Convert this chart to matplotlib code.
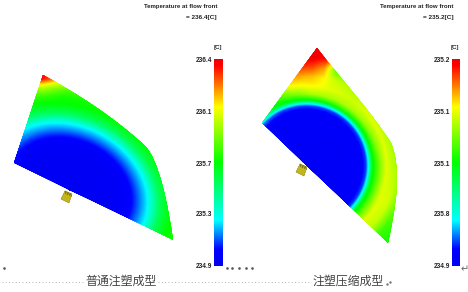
import matplotlib
matplotlib.use("Agg")
import matplotlib.pyplot as plt
import numpy as np
from matplotlib.colors import LinearSegmentedColormap, Normalize
from matplotlib.patches import PathPatch, Polygon
from matplotlib.path import Path

plt.rcParams['font.family'] = ['Liberation Sans', 'Noto Sans CJK SC', 'DejaVu Sans']

# outlines: corner, two control points, corner, two control points, corner
left_outline = [(43, 75), (78, 94), (115, 118), (145, 146), (159, 160), (168, 205), (173, 240), (14, 163)]
right_outline = [(317, 48), (340, 78), (370, 110), (391, 143), (402, 170), (396, 205), (388, 243), (262, 123)]

left_angles = [0, 30, 45, 56, 67, 90, 130, 180]
left_rings = [0, 0.6, 0.8, 1.0, 1.15, 1.3, 1.4, 1.5, 1.58, 1.65, 1.8]
left_temps = [
    [234.93, 234.93, 234.93, 234.93, 234.93, 234.93, 234.93, 234.93],
    [234.95, 234.95, 234.95, 234.95, 234.95, 234.95, 234.95, 234.95],
    [235.03, 235.03, 235.03, 235.03, 235.03, 235.03, 235.03, 235.03],
    [235.23, 235.23, 235.23, 235.23, 235.23, 235.23, 235.23, 235.23],
    [235.50, 235.50, 235.50, 235.50, 235.50, 235.50, 235.50, 235.50],
    [235.65, 235.65, 235.65, 235.65, 235.65, 235.65, 235.65, 235.65],
    [235.68, 235.68, 235.72, 235.74, 235.68, 235.68, 235.68, 235.68],
    [235.73, 235.73, 235.86, 235.90, 235.78, 235.70, 235.70, 235.70],
    [235.78, 235.78, 236.07, 236.10, 235.92, 235.72, 235.72, 235.72],
    [235.80, 235.80, 236.30, 236.35, 236.10, 235.75, 235.75, 235.75],
    [235.80, 235.80, 236.40, 236.40, 236.20, 235.75, 235.75, 235.75],
]

# right part
right_angles = [0, 20, 35, 50, 57, 64, 80, 100, 120, 137, 160, 180]
right_rings = [0, 55, 60, 63, 66, 72, 80, 90, 100, 110, 122]
right_temps = [
    [234.909] * 12,
    [234.918] * 12,
    [234.945, 234.936, 234.936, 234.936, 234.936, 234.936, 234.936, 234.936, 234.936, 234.936, 234.936, 234.936],
    [234.990, 234.981, 234.981, 234.981, 234.981, 234.981, 234.981, 234.981, 234.981, 234.981, 234.981, 234.981],
    [235.044, 235.038, 235.044, 235.050, 235.050, 235.050, 235.056, 235.050, 235.044, 235.041, 235.041, 235.041],
    [235.056, 235.065, 235.086, 235.104, 235.104, 235.104, 235.104, 235.098, 235.090, 235.080, 235.080, 235.080],
    [235.065, 235.086, 235.125, 235.131, 235.128, 235.122, 235.116, 235.122, 235.122, 235.122, 235.122, 235.122],
    [235.074, 235.098, 235.155, 235.146, 235.134, 235.116, 235.104, 235.098, 235.098, 235.104, 235.116, 235.110],
    [235.080, 235.104, 235.185, 235.176, 235.155, 235.080, 235.086, 235.086, 235.086, 235.086, 235.080, 235.068],
    [235.086, 235.098, 235.200, 235.200, 235.191, 235.140, 235.080, 235.080, 235.080, 235.080, 235.070, 235.056],
    [235.092, 235.098, 235.200, 235.200, 235.200, 235.170, 235.080, 235.080, 235.080, 235.080, 235.070, 235.050],
]

left_ticks = ['236.4', '236.1', '235.7', '235.3', '234.9']
right_ticks = ['235.2', '235.1', '235.1', '235.8', '234.9']
tick_y = [60, 112, 164, 215, 267]

cmap = LinearSegmentedColormap.from_list('flow', [
    (0, '#0000f0'), (0.08, '#0000ff'), (0.22, '#00ffff'), (0.5, '#00ff00'),
    (0.77, '#ffff00'), (0.97, '#ff0000'), (1, '#f00000')])


def draw_part(ax, outline, angles, rings, temps, centre, axis_a, axis_b, edge_dir, vmin, vmax):
    # fine render grid so the rings come out round
    th = np.linspace(0, 180, 181)
    rr = np.linspace(rings[0], rings[-1], 240)
    temps = np.array(temps)
    by_angle = np.array([np.interp(rr, rings, temps[:, j]) for j in range(len(angles))])
    fine = np.array([np.interp(th, angles, by_angle[:, i]) for i in range(len(rr))])
    r2, t2 = np.meshgrid(rr, np.radians(th), indexing='ij')
    e = np.array(edge_dir)
    n = np.array([e[1], -e[0]])
    x = centre[0] - axis_a * r2 * np.cos(t2) * e[0] + axis_b * r2 * np.sin(t2) * n[0]
    y = centre[1] - axis_a * r2 * np.cos(t2) * e[1] + axis_b * r2 * np.sin(t2) * n[1]
    mesh = ax.pcolormesh(x, y, fine, shading='gouraud', cmap=cmap, norm=Normalize(vmin, vmax), zorder=2)
    codes = [Path.MOVETO] + [Path.CURVE4] * 6 + [Path.LINETO, Path.LINETO]
    clip = PathPatch(Path(outline + [outline[0]], codes), transform=ax.transData, fc='none', ec='none')
    ax.add_patch(clip)
    mesh.set_clip_path(clip)


def draw_gate(ax, x, y):
    ax.add_patch(Polygon([(x - 6, y + 2), (x - 2, y - 6), (x + 5, y - 3), (x + 2, y + 6)],
                         closed=True, fc='#c4b61a', ec='#8f8410', lw=0.4, zorder=3))
    for i in range(4):
        ax.plot([x - 2 + i * 1.8, x - 1 + i * 1.8], [y - 6 + i * 0.8, y - 3 + i * 0.8],
                color='#4a4a20', lw=0.4, zorder=4)


def draw_scale(ax, x0, x1, ticks, title_right, value):
    grad = np.linspace(1, 0, 256).reshape(-1, 1)
    ax.imshow(grad, extent=(x0, x1, 266, 59), cmap=cmap, vmin=0, vmax=1, aspect='auto', zorder=2)
    for lab, y in zip(ticks, tick_y):
        ax.text(x0 - 2, y, lab, ha='right', va='center', fontsize=4.7, fontweight='bold', color='#222222')
    ax.text(x1 - 1, 48, '[C]', ha='right', va='center', fontsize=4.5, fontweight='bold', color='#222222')
    ax.text(title_right, 6.5, 'Temperature at flow front', ha='right', va='center',
            fontsize=4.4, fontweight='bold', color='#222222')
    ax.text(title_right, 17.5, value, ha='right', va='center', fontsize=4.6, fontweight='bold', color='#222222')


fig = plt.figure(figsize=(4.68, 2.92), dpi=100)
ax = fig.add_axes([0, 0, 1, 1])

draw_part(ax, left_outline, left_angles, left_rings, left_temps, (70, 190), 81, 64, (0.9, 0.437), 234.9, 236.4)
draw_part(ax, right_outline, right_angles, right_rings, right_temps, (306.5, 165.5), 1, 1, (0.724, 0.69), 234.9, 235.2)
draw_gate(ax, 67, 197)
draw_gate(ax, 302, 170)
draw_scale(ax, 214, 223, left_ticks, 217, '= 236.4[C]')
draw_scale(ax, 452, 460, right_ticks, 454, '= 235.2[C]')

# caption line
ax.plot([2, 85], [282, 282], color='#999999', lw=0.6, ls=(0, (1, 3)))
ax.plot([158, 310], [282, 282], color='#999999', lw=0.6, ls=(0, (1, 3)))
ax.text(121, 282, '普通注塑成型', ha='center', va='center', fontsize=8.6, color='#444444')
ax.text(348, 282, '注塑压缩成型', ha='center', va='center', fontsize=8.6, color='#444444')
ax.plot([4, 227, 232, 239, 246, 252], [268] * 6, ls='none', marker='s', ms=0.8, color='#555555')
ax.plot([387, 390], [284, 282], ls='none', marker='s', ms=0.7, color='#777777')
ax.text(465, 269, '↵', ha='center', va='center', fontsize=7, color='#666666', family='DejaVu Sans')

ax.set_xlim(0, 468)
ax.set_ylim(292, 0)
ax.axis('off')
fig.savefig('out.png', dpi=100)
